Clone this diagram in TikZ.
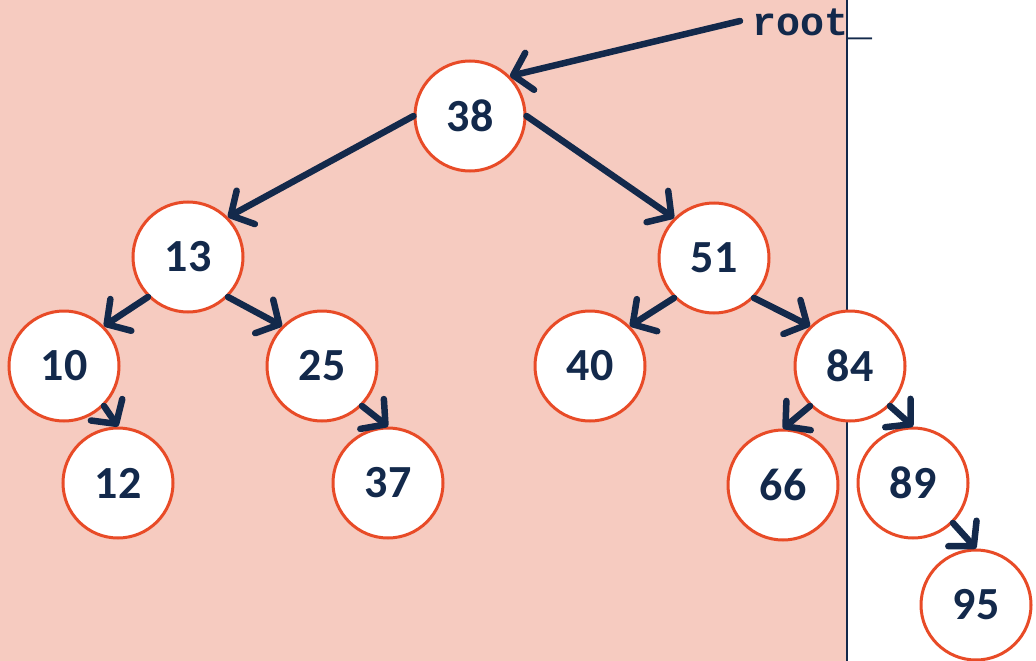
\documentclass[tikz,border=0pt]{standalone}
\usepackage{fontspec}
\setmainfont{Carlito}
\newfontfamily\codefont{Liberation Mono}
\usetikzlibrary{arrows.meta}
\definecolor{bgpink}{HTML}{F6CBC0}
\definecolor{ringred}{HTML}{E84B27}
\definecolor{inknavy}{HTML}{13294B}
\tikzset{
    key/.style={circle, draw=ringred, line width=3pt, fill=white, minimum size=110pt, inner sep=0pt, text=inknavy, font=\fontsize{46}{50}\selectfont\bfseries},
    link/.style={draw=inknavy, line width=6.5pt, line cap=round, -{Straight Barb[length=17pt, width=38pt, line width=6.5pt, round]}}
}
\begin{document}
\begin{tikzpicture}[x=1pt,y=-1pt]
        \useasboundingbox (0,0) rectangle (1036,661);
        \fill[bgpink] (0,0) rectangle (847,661);
        \draw[inknavy, line width=2pt] (847,0) -- (847,661);

        \node at (813,24) (rootlbl) {\codefont\bfseries\fontsize{40}{44}\selectfont\textcolor{inknavy}{root\_}};
        \coordinate (rootend) at (740,21);

        \node[key] at (470,116) (n38) {38};
        \node[key] at (188,257) (n13) {13};
        \node[key] at (714,258) (n51) {51};
        \node[key] at (64,366) (n10) {10};
        \node[key] at (322,366) (n25) {25};
        \node[key] at (590,366) (n40) {40};
        \node[key] at (850,366) (n84) {84};
        \node[key] at (118,483) (n12) {12};
        \node[key] at (388,483) (n37) {37};
        \node[key] at (783,485) (n66) {66};
        \node[key] at (913,483) (n89) {89};
        \node[key] at (976,605) (n95) {95};

        \draw[link] (rootend) -- (n38.north east);
        \draw[link] (n38.west) -- (n13.north east);
        \draw[link] (n38.east) -- (n51.north west);
        \draw[link] (n13.south west) -- (n10.north east);
        \draw[link] (n13.south east) -- (n25.north west);
        \draw[link] (n51.south west) -- (n40.north east);
        \draw[link] (n51.south east) -- (n84.north west);
        \draw[link] (n10.south east) -- (n12.north);
        \draw[link] (n25.south east) -- (n37.north);
        \draw[link] (n84.south west) -- (n66.north);
        \draw[link] (n84.south east) -- (n89.north);
        \draw[link] (n89.south east) -- (n95.north);

    \end{tikzpicture}
\end{document}
